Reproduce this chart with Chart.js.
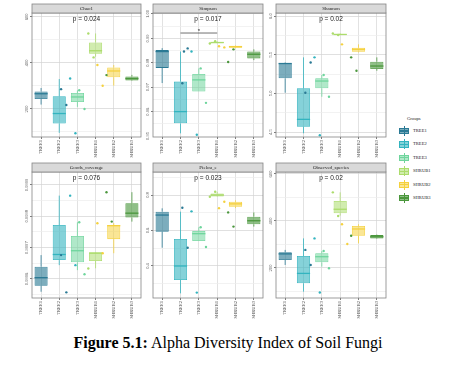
<!DOCTYPE html>
<html>
<head>
<meta charset="utf-8">
<script src="https://cdn.jsdelivr.net/npm/chart.js@4.4.0/dist/chart.umd.min.js"></script>
<style>
  body { margin: 0; width: 449px; height: 374px; background: #fff; position: relative; overflow: hidden; }
  canvas { position: absolute; }
  .legend { position: absolute; left: 396px; top: 114px; font-family: "Liberation Serif", "Times New Roman", serif; color: #222; }
  .legend .title { position: absolute; left: 11px; top: 2px; font-size: 4.6px; white-space: nowrap; }
  .legend .row { position: absolute; left: 0; height: 12px; width: 50px; }
  .legend .key { position: absolute; left: 3px; top: 1px; width: 10px; height: 10px; }
  .legend .key .wh { position: absolute; left: 4.5px; top: 0; width: 1px; height: 10px; }
  .legend .key .bx { position: absolute; left: 0; top: 2px; width: 8.4px; height: 4.4px; border: 0.8px solid; }
  .legend .key .md { position: absolute; left: 0; top: 4.4px; width: 10px; height: 1.2px; }
  .legend .lab { position: absolute; left: 17px; top: 3px; font-size: 4.6px; white-space: nowrap; }
  .caption { position: absolute; left: 0; top: 334px; width: 456px; text-align: center;
             font-family: "Liberation Serif", "Times New Roman", serif; font-size: 16px; color: #000; }
</style>
</head>
<body>
<div class="legend" id="legend"><div class="title">Groups</div></div>
<div class="caption"><b>Figure 5.1:</b> Alpha Diversity Index of Soil Fungi</div>
<script>
const GROUPS = ['TREE1', 'TREE2', 'TREE3', 'SHRUB1', 'SHRUB2', 'SHRUB3'];
const LINE_COLORS = ['#2b7a95', '#33b4bf', '#6fd59d', '#acdc6c', '#f5d13e', '#4b973d'];
const FILL_COLORS = ['rgba(43,122,149,0.62)', 'rgba(51,180,191,0.6)', 'rgba(111,213,157,0.55)',
                     'rgba(172,220,108,0.55)', 'rgba(245,209,62,0.55)', 'rgba(75,151,61,0.62)'];
const JITTER = [-0.3, 0.28, -0.12, 0.15];
const SERIF = '"Liberation Serif", "Times New Roman", serif';

// box stats per group: [min, q1, median, q3, max]
const CHAO1 = [[219, 243, 266, 276, 291], [96, 137, 180, 255, 330], [209, 230, 252, 269, 281],
               [427, 440, 453, 489, 528], [301, 338, 365, 380, 391], [322, 324, 332, 341, 348]];
const CHAO1_PTS = [[286, 217], [332, 94], [281, 200], [528, 424], [391, 301], [347]];
const CHAO1_TICKS = [100, 200, 300, 400, 500, 600];
const CHAO1_LABELS = [200, 400, 600];

const SIMPSON = [[0.9717, 0.9779, 0.9846, 0.9852, 0.9860], [0.9511, 0.9552, 0.9600, 0.9723, 0.9846],
                 [0.9682, 0.9682, 0.9730, 0.9754, 0.9777], [0.9879, 0.9880, 0.9883, 0.9885, 0.9888],
                 [0.9860, 0.9862, 0.9866, 0.9870, 0.9872], [0.9811, 0.9818, 0.9835, 0.9846, 0.9855]];
const SIMPSON_PTS = [[0.9716, 0.9859, 0.9846], [0.9846, 0.9505], [0.9777, 0.9636], [0.9879, 0.9888],
                     [0.9868, 0.9863], [0.9803, 0.9855]];
const SIMPSON_TICKS = [0.955, 0.96, 0.965, 0.97, 0.975, 0.98, 0.985, 0.99, 0.995, 1.0];
const SIMPSON_LABELS = [0.95, 0.96, 0.97, 0.98, 0.99, 1.0];
const SIMPSON_BRACKET = { from: 1, to: 3, y: 0.9922, starY: 0.9936, label: '*' };

const SHANNON = [[5.009, 5.195, 5.386, 5.389, 5.40], [4.485, 4.570, 4.665, 5.066, 5.466],
                 [4.957, 5.066, 5.160, 5.195, 5.238], [5.750, 5.755, 5.762, 5.768, 5.775],
                 [5.530, 5.539, 5.570, 5.590, 5.634], [5.293, 5.315, 5.354, 5.410, 5.466]];
const SHANNON_PTS = [[5.009, 5.40], [5.466, 4.46], [5.238, 4.957], [5.775, 5.755], [5.634], [5.466, 5.293]];
const SHANNON_TICKS = [4.5, 4.75, 5.0, 5.25, 5.5, 5.75, 6.0];
const SHANNON_LABELS = [4.5, 5.0, 5.5, 6.0];

const GOODS = [[0.999559, 0.999578, 0.999604, 0.999639, 0.999676], [0.999644, 0.999660, 0.999678, 0.999772, 0.999866],
               [0.999628, 0.999653, 0.999690, 0.999737, 0.999781], [0.999634, 0.999657, 0.999682, 0.999685, 0.999686],
               [0.999682, 0.999727, 0.999770, 0.999772, 0.999778], [0.999783, 0.999796, 0.999810, 0.999842, 0.999877]];
const GOODS_PTS = [[0.999676, 0.999557], [0.999866, 0.999644], [0.999781, 0.999615], [0.999633],
                   [0.999778, 0.999682], [0.999877, 0.999783]];
const GOODS_TICKS = [0.99955, 0.9996, 0.99965, 0.9997, 0.99975, 0.9998, 0.99985, 0.9999];
const GOODS_LABELS = [0.9996, 0.9997, 0.9998, 0.9999];

const PIELOU = [[0.503, 0.593, 0.687, 0.706, 0.725], [0.246, 0.321, 0.400, 0.552, 0.706],
                [0.541, 0.541, 0.582, 0.597, 0.618], [0.790, 0.792, 0.800, 0.808, 0.818],
                [0.726, 0.734, 0.750, 0.762, 0.770], [0.622, 0.635, 0.655, 0.678, 0.702]];
const PIELOU_PTS = [[0.728, 0.503], [0.708, 0.25], [0.618, 0.507], [0.79, 0.818], [0.726, 0.762], [0.702, 0.622]];
const PIELOU_TICKS = [0.3, 0.4, 0.5, 0.6, 0.7, 0.8, 0.9];
const PIELOU_LABELS = [0.4, 0.6, 0.8];

const OBSERVED = [[213, 234, 260, 267, 277], [99, 135, 177, 251, 326], [206, 224, 248, 263, 272],
                  [423, 433, 450, 485, 522], [305, 337, 366, 379, 386], [324, 326, 333, 340, 342]];
const OBSERVED_PTS = [[277, 213], [326, 96], [272, 199], [522, 421], [386, 302], [337]];
const OBSERVED_TICKS = [100, 200, 300, 400, 500, 600];
const OBSERVED_LABELS = [200, 400, 600];

const PANELS = [
  { title: 'Chao1', p: 'p = 0.024', box: CHAO1, pts: CHAO1_PTS, ticks: CHAO1_TICKS, labels: CHAO1_LABELS, dec: 0,
    min: 78, max: 617, left: 0, top: 0, w: 145, yw: 32, pad: 13, xh: 23 },
  { title: 'Simpson', p: 'p = 0.017', box: SIMPSON, pts: SIMPSON_PTS, ticks: SIMPSON_TICKS, labels: SIMPSON_LABELS, dec: 2,
    min: 0.9496, max: 1.0004, left: 145, top: 0, w: 122, yw: 8, pad: 13, xh: 23, bracket: SIMPSON_BRACKET },
  { title: 'Shannon', p: 'p = 0.02', box: SHANNON, pts: SHANNON_PTS, ticks: SHANNON_TICKS, labels: SHANNON_LABELS, dec: 1,
    min: 4.437, max: 6.039, left: 267, top: 0, w: 123, yw: 9, pad: 13, xh: 23 },
  { title: 'Goods_coverage', p: 'p = 0.076', box: GOODS, pts: GOODS_PTS, ticks: GOODS_TICKS, labels: GOODS_LABELS, dec: 4,
    min: 0.999539, max: 0.9999415, left: 0, top: 160, w: 145, yw: 32, pad: 12, xh: 22 },
  { title: 'Pielou_e', p: 'p = 0.023', box: PIELOU, pts: PIELOU_PTS, ticks: PIELOU_TICKS, labels: PIELOU_LABELS, dec: 1,
    min: 0.2197, max: 0.9296, left: 145, top: 160, w: 122, yw: 8, pad: 12, xh: 22 },
  { title: 'Observed_species', p: 'p = 0.02', box: OBSERVED, pts: OBSERVED_PTS, ticks: OBSERVED_TICKS, labels: OBSERVED_LABELS, dec: 0,
    min: 72.3, max: 608.5, left: 267, top: 160, w: 123, yw: 9, pad: 12, xh: 22 }
];

const isMajor = (p, v) => p.labels.some(l => Math.abs(l - v) < 1e-9);

function makeDecor(p) {
  return {
    id: 'decor',
    beforeDatasetsDraw(chart) {
      const { ctx } = chart;
      const x = chart.scales.x, y = chart.scales.y;
      ctx.save();
      ctx.lineWidth = 0.8;
      p.box.forEach((b, i) => {
        const cx = x.getPixelForValue(i);
        ctx.strokeStyle = LINE_COLORS[i];
        ctx.beginPath();
        ctx.moveTo(cx, y.getPixelForValue(b[0]));
        ctx.lineTo(cx, y.getPixelForValue(b[1]));
        ctx.moveTo(cx, y.getPixelForValue(b[3]));
        ctx.lineTo(cx, y.getPixelForValue(b[4]));
        ctx.stroke();
      });
      ctx.restore();
    },
    afterDatasetDraw(chart, args) {
      if (args.index !== 0) return;
      const { ctx } = chart;
      const y = chart.scales.y;
      ctx.save();
      ctx.lineWidth = 1.3;
      chart.getDatasetMeta(0).data.forEach((bar, i) => {
        const yy = y.getPixelForValue(p.box[i][2]);
        ctx.strokeStyle = LINE_COLORS[i];
        ctx.beginPath();
        ctx.moveTo(bar.x - bar.width / 2, yy);
        ctx.lineTo(bar.x + bar.width / 2, yy);
        ctx.stroke();
      });
      ctx.restore();
    },
    afterDraw(chart) {
      const { ctx, chartArea: a } = chart;
      const x = chart.scales.x, y = chart.scales.y;
      ctx.save();
      // panel frame
      ctx.strokeStyle = '#858585';
      ctx.lineWidth = 0.8;
      ctx.strokeRect(a.left, a.top, a.right - a.left, a.bottom - a.top);
      // strip
      ctx.fillStyle = '#d9d9d9';
      ctx.fillRect(a.left, a.top - 9, a.right - a.left, 9);
      ctx.strokeRect(a.left, a.top - 9, a.right - a.left, 9);
      ctx.fillStyle = '#1a1a1a';
      ctx.font = '5px ' + SERIF;
      ctx.textAlign = 'center';
      ctx.textBaseline = 'middle';
      ctx.fillText(p.title, (a.left + a.right) / 2, a.top - 4.3);
      // p value
      ctx.font = '6.5px "Liberation Sans", Arial, sans-serif';
      ctx.fillStyle = '#222';
      ctx.fillText(p.p, (a.left + a.right) / 2, a.top + 6.5);
      // rotated y labels
      ctx.font = '4.6px ' + SERIF;
      ctx.fillStyle = '#4d4d4d';
      ctx.textBaseline = 'bottom';
      p.labels.forEach(v => {
        const yy = y.getPixelForValue(v);
        ctx.save();
        ctx.translate(a.left - 2.6, yy);
        ctx.rotate(-Math.PI / 2);
        ctx.fillText(v.toFixed(p.dec), 0, 0);
        ctx.restore();
      });
      // significance bracket
      if (p.bracket) {
        const br = p.bracket;
        const by = y.getPixelForValue(br.y);
        ctx.strokeStyle = '#333';
        ctx.lineWidth = 0.7;
        ctx.beginPath();
        ctx.moveTo(x.getPixelForValue(br.from), by);
        ctx.lineTo(x.getPixelForValue(br.to), by);
        ctx.stroke();
        ctx.fillStyle = '#222';
        ctx.font = '6px "Liberation Sans", Arial, sans-serif';
        ctx.textBaseline = 'middle';
        ctx.fillText(br.label, x.getPixelForValue((br.from + br.to) / 2), y.getPixelForValue(br.starY) + 1.5);
      }
      ctx.restore();
    }
  };
}

function buildPanel(p) {
  const canvas = document.createElement('canvas');
  canvas.width = p.w;
  canvas.height = 160;
  canvas.style.left = p.left + 'px';
  canvas.style.top = p.top + 'px';
  document.body.appendChild(canvas);

  const points = [], pointColors = [];
  p.pts.forEach((vals, i) => {
    vals.forEach((v, k) => {
      points.push({ x: i + JITTER[k % JITTER.length], y: v });
      pointColors.push(LINE_COLORS[i]);
    });
  });

  new Chart(canvas, {
    type: 'bar',
    data: {
      labels: GROUPS,
      datasets: [
        {
          type: 'bar',
          xAxisID: 'x',
          data: p.box.map(b => [b[1], b[3]]),
          backgroundColor: FILL_COLORS,
          borderColor: LINE_COLORS,
          borderWidth: 0.8,
          borderSkipped: false,
          grouped: false,
          barPercentage: 0.72,
          categoryPercentage: 1,
          order: 2
        },
        {
          type: 'scatter',
          xAxisID: 'xp',
          data: points,
          pointBackgroundColor: pointColors,
          pointBorderWidth: 0,
          pointRadius: 1.2,
          order: 1
        }
      ]
    },
    options: {
      responsive: false,
      animation: false,
      events: [],
      layout: { padding: { top: p.pad, left: 0, right: 2, bottom: 0 } },
      plugins: { legend: { display: false }, tooltip: { enabled: false } },
      scales: {
        x: {
          type: 'category',
          offset: true,
          border: { display: false },
          grid: { offset: false, color: '#d6d6d6', lineWidth: 0.7, tickLength: 2, tickColor: '#444' },
          ticks: { minRotation: 90, maxRotation: 90, padding: 1, color: '#4d4d4d', font: { family: SERIF, size: 4.6 } },
          afterFit: s => { s.height = p.xh; }
        },
        xp: { type: 'linear', display: false, min: -0.5, max: 5.5 },
        y: {
          min: p.min,
          max: p.max,
          border: { display: false },
          afterBuildTicks: s => { s.ticks = p.ticks.map(v => ({ value: v })); },
          ticks: { display: false },
          grid: {
            lineWidth: 0.7,
            tickLength: 2,
            color: c => isMajor(p, c.tick.value) ? '#d2d2d2' : '#ececec',
            tickColor: c => isMajor(p, c.tick.value) ? '#444' : 'rgba(0,0,0,0)'
          },
          afterFit: s => { s.width = p.yw; }
        }
      }
    },
    plugins: [makeDecor(p)]
  });
}

PANELS.forEach(buildPanel);

// legend
const legend = document.getElementById('legend');
GROUPS.forEach((g, i) => {
  const row = document.createElement('div');
  row.className = 'row';
  row.style.top = (11 + i * 13.4) + 'px';
  row.innerHTML = `
    <div class="key">
      <div class="wh" style="background:${LINE_COLORS[i]}"></div>
      <div class="bx" style="background:${FILL_COLORS[i]};border-color:${LINE_COLORS[i]}"></div>
      <div class="md" style="background:${LINE_COLORS[i]}"></div>
    </div>
    <div class="lab">${g}</div>`;
  legend.appendChild(row);
});
</script>
</body>
</html>
